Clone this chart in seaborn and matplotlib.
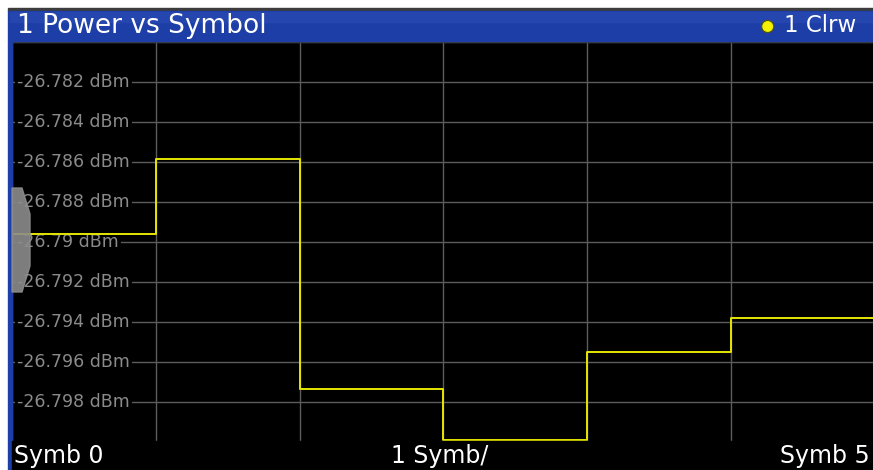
import numpy as np
import pandas as pd
import seaborn as sns
import matplotlib
matplotlib.use("Agg")
from matplotlib import pyplot as plt
from matplotlib.patches import Rectangle, Polygon, Ellipse
from matplotlib import transforms

# Trace values (one level per symbol)
symbols = [0, 1, 2, 3, 4, 5]
power_dbm = [-26.78962, -26.78587, -26.79739, -26.79993, -26.79552, -26.79384]
y_ticks = [-26.800, -26.798, -26.796, -26.794, -26.792, -26.790,
           -26.788, -26.786, -26.784, -26.782, -26.780]
y_labels_shown = y_ticks[1:-1]
title = "1 Power vs Symbol"
trace_label = "1 Clrw"
x_labels = ["Symb 0", "1 Symb/", "Symb 5"]

W, H = 873, 470

def px(x, y):
    # pixel coords (top-left origin) -> figure fraction
    return x / W, 1 - y / H

sns.set_style("dark", {"axes.facecolor": "black", "grid.color": "#5c5c5c"})
plt.rcParams["font.family"] = ["DejaVu Sans"]

fig = plt.figure(figsize=(W / 100, H / 100), dpi=100, facecolor="white")

# Screen frame: grey rim, blue title bar, left blue border, black bottom strip
fig.patches.append(Rectangle(px(8, 11), (W - 8) / W, 3 / H, transform=fig.transFigure,
                             color="#3c3c3c", zorder=0))
fig.patches.append(Rectangle(px(8, 41), (W - 8) / W, 30 / H, transform=fig.transFigure,
                             color="#1d3ea6", zorder=1))
fig.patches.append(Rectangle(px(10, 22), (W - 10) / W, 10 / H, transform=fig.transFigure,
                             color="#2546ae", zorder=1))
fig.patches.append(Rectangle(px(8, 470), 4 / W, 429 / H, transform=fig.transFigure,
                             color="#1d3ea6", zorder=1))
fig.patches.append(Rectangle(px(12, 470), (W - 12) / W, 29 / H, transform=fig.transFigure,
                             color="black", zorder=1))

# Plot axes
left, top = px(11.9, 41.9)
_, bottom = px(0, 441.5)
ax = fig.add_axes([left, bottom, 862.9 / W, top - bottom])

# Step trace: repeat the last level so the final symbol gets its own width
data = pd.DataFrame({"symbol": symbols + [symbols[-1] + 1],
                     "power": power_dbm + [power_dbm[-1]]})
sns.lineplot(data=data, x="symbol", y="power", drawstyle="steps-post",
             color="#e6e600", linewidth=1.4, ax=ax, zorder=6)

ax.set_xlim(0, 6)
ax.set_ylim(y_ticks[0], y_ticks[-1])
ax.set_xticks(range(7))
ax.set_yticks(y_ticks)
ax.tick_params(length=0, labelleft=False, labelbottom=False)
ax.set_xlabel("")
ax.set_ylabel("")
ax.grid(True, color="#5c5c5c", linewidth=1.0)
for side in ["left", "right"]:
    ax.spines[side].set_visible(False)
ax.spines["bottom"].set_color("#5c5c5c")
ax.spines["top"].set_color("#3a3a3a")

# Level labels sit inside the plot, over the grid
trans = transforms.blended_transform_factory(ax.transAxes, ax.transData)
for v in y_labels_shown:
    lab = f"{v:.3f}".rstrip("0") + " dBm"
    ax.text(0.006, v, lab, transform=trans, ha="left", va="center", fontsize=12.5,
            color="#8a8a8a", zorder=4,
            bbox=dict(facecolor="black", edgecolor="none", pad=1.5))

# Reference level marker on the left edge
fig.patches.append(Polygon([px(12, 188), px(22, 188), px(30, 214), px(30, 266),
                            px(22, 292), px(12, 292)], closed=True,
                           transform=fig.transFigure, color="#8c8c8c", alpha=0.9, zorder=5))

# Title bar texts
fig.text(*px(17, 26), title, fontsize=19, color="white", ha="left", va="center", zorder=6)
fig.text(*px(856, 26), trace_label, fontsize=16.5, color="white", ha="right", va="center", zorder=6)
fig.patches.append(Ellipse(px(767.7, 26.5), 12 / W, 12 / H, transform=fig.transFigure,
                           facecolor="#f2f200", edgecolor="#555500", linewidth=0.8, zorder=6))

# Bottom axis texts
fig.text(*px(14, 456), x_labels[0], fontsize=17, color="white", ha="left", va="center", zorder=6)
fig.text(*px(440, 456), x_labels[1], fontsize=17, color="white", ha="center", va="center", zorder=6)
fig.text(*px(870, 456), x_labels[2], fontsize=17, color="white", ha="right", va="center", zorder=6)

fig.savefig("out.png", dpi=100, facecolor="white")
